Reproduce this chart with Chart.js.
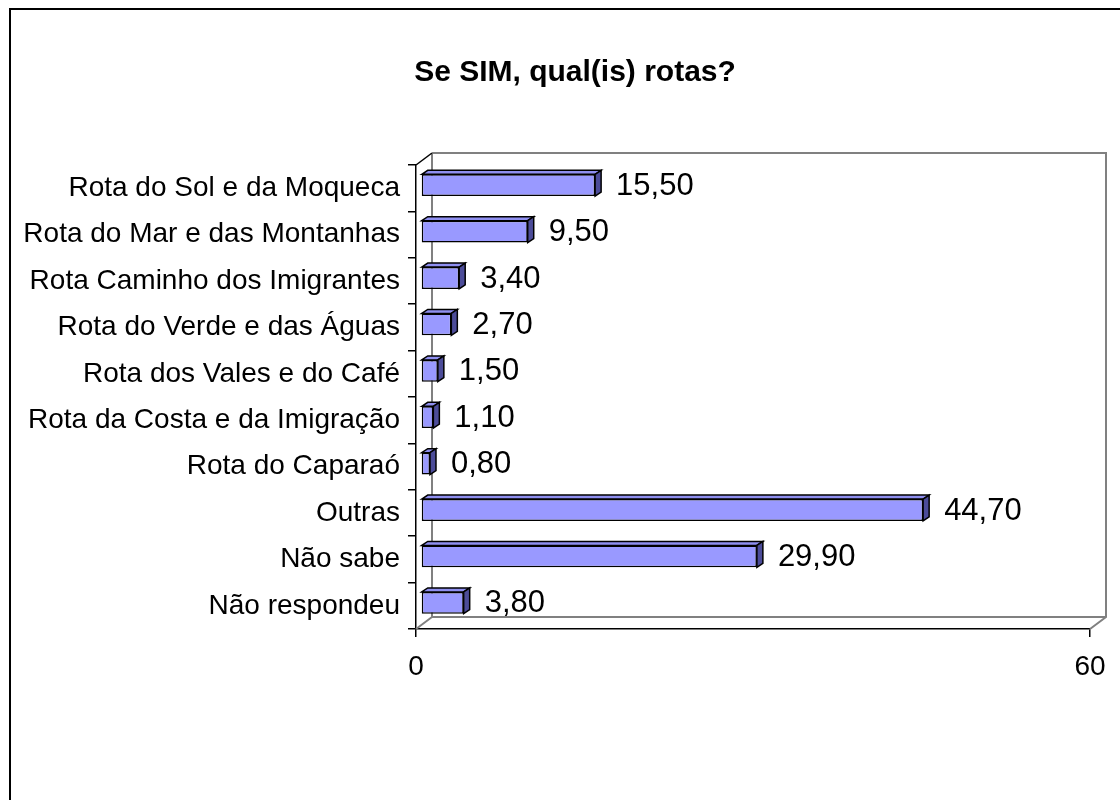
<!DOCTYPE html>
<html>
<head>
<meta charset="utf-8">
<title>Se SIM, qual(is) rotas?</title>
<script src="https://cdn.jsdelivr.net/npm/chart.js@4"></script>
<style>
  html, body { margin: 0; padding: 0; background: #fff; }
  #wrap { position: relative; width: 1120px; height: 800px; overflow: hidden; }
  #frame { position: absolute; left: 9px; top: 8px; right: -10px; bottom: -10px; border: 2px solid #000; }
  canvas { position: absolute; left: 0; top: 0; }
</style>
</head>
<body>
<div id="wrap">
  <div id="frame"></div>
  <canvas id="rotasChart" width="1120" height="800"></canvas>
</div>
<script>
const chartTitle = 'Se SIM, qual(is) rotas?';
const categories = [
  'Rota do Sol e da Moqueca',
  'Rota do Mar e das Montanhas',
  'Rota Caminho dos Imigrantes',
  'Rota do Verde e das Águas',
  'Rota dos Vales e do Café',
  'Rota da Costa e da Imigração',
  'Rota do Caparaó',
  'Outras',
  'Não sabe',
  'Não respondeu'
];
const percentages = [15.5, 9.5, 3.4, 2.7, 1.5, 1.1, 0.8, 44.7, 29.9, 3.8];
const xTicks = [0, 60];

const FONT = '"Liberation Sans", Arial, sans-serif';
const DEPTH_X = 16, DEPTH_Y = -12;     // back wall offset
const BAR_DX = 6, BAR_DY = -4;         // bar depth
const SHIFT_X = 5, SHIFT_Y = -3;       // bars sit a bit inside the box

// draws the 3d box, the bar faces, the value labels and the title
const box3d = {
  id: 'box3d',
  beforeDatasetsDraw(chart) {
    const { ctx, chartArea: a } = chart;
    ctx.save();
    // back wall + floor outline, grey
    ctx.strokeStyle = '#808080';
    ctx.lineWidth = 2;
    ctx.beginPath();
    ctx.moveTo(a.left + DEPTH_X, a.top + DEPTH_Y);
    ctx.lineTo(a.right + DEPTH_X, a.top + DEPTH_Y);
    ctx.lineTo(a.right + DEPTH_X, a.bottom + DEPTH_Y);
    ctx.lineTo(a.right, a.bottom);
    ctx.moveTo(a.left + DEPTH_X, a.top + DEPTH_Y);
    ctx.lineTo(a.left + DEPTH_X, a.bottom + DEPTH_Y);
    ctx.lineTo(a.right + DEPTH_X, a.bottom + DEPTH_Y);
    ctx.moveTo(a.left + DEPTH_X, a.bottom + DEPTH_Y);
    ctx.lineTo(a.left, a.bottom);
    ctx.stroke();
    // front axis corner to the wall
    ctx.strokeStyle = '#000';
    ctx.lineWidth = 1.5;
    ctx.beginPath();
    ctx.moveTo(a.left, a.top);
    ctx.lineTo(a.left + DEPTH_X, a.top + DEPTH_Y);
    ctx.stroke();
    ctx.restore();

    ctx.save();
    ctx.translate(SHIFT_X, SHIFT_Y);
  },
  afterDatasetsDraw(chart) {
    const { ctx } = chart;
    const meta = chart.getDatasetMeta(0);
    ctx.lineWidth = 1.5;
    ctx.strokeStyle = '#000';
    meta.data.forEach((bar, i) => {
      const top = bar.y - bar.height / 2;
      const bottom = bar.y + bar.height / 2;
      // top face
      ctx.beginPath();
      ctx.moveTo(bar.base, top);
      ctx.lineTo(bar.base + BAR_DX, top + BAR_DY);
      ctx.lineTo(bar.x + BAR_DX, top + BAR_DY);
      ctx.lineTo(bar.x, top);
      ctx.closePath();
      ctx.fillStyle = '#8f8ff0';
      ctx.fill();
      ctx.stroke();
      // side face
      ctx.beginPath();
      ctx.moveTo(bar.x, top);
      ctx.lineTo(bar.x + BAR_DX, top + BAR_DY);
      ctx.lineTo(bar.x + BAR_DX, bottom + BAR_DY);
      ctx.lineTo(bar.x, bottom);
      ctx.closePath();
      ctx.fillStyle = '#4c4c99';
      ctx.fill();
      ctx.stroke();

      // value label
      ctx.fillStyle = '#000';
      ctx.font = '31px ' + FONT;
      ctx.textAlign = 'left';
      ctx.textBaseline = 'middle';
      ctx.fillText(percentages[i].toFixed(2).replace('.', ','), bar.x + BAR_DX + 15, bar.y + 1);
    });
    ctx.restore();
  },
  afterDraw(chart) {
    const { ctx } = chart;
    ctx.save();
    ctx.fillStyle = '#000';
    ctx.font = 'bold 30px ' + FONT;
    ctx.textAlign = 'center';
    ctx.textBaseline = 'middle';
    ctx.fillText(chartTitle, 575, 73);
    ctx.restore();
  }
};

new Chart(document.getElementById('rotasChart'), {
  type: 'bar',
  data: {
    labels: categories,
    datasets: [{
      data: percentages,
      backgroundColor: '#9999ff',
      borderColor: '#000',
      borderWidth: 1.5,
      borderSkipped: false,
      categoryPercentage: 1,
      barPercentage: 0.47
    }]
  },
  options: {
    indexAxis: 'y',
    responsive: false,
    animation: false,
    layout: { padding: { left: 0, right: 30, top: 165, bottom: 0 } },
    plugins: {
      legend: { display: false },
      tooltip: { enabled: false },
      title: { display: false }
    },
    scales: {
      x: {
        min: 0,
        max: 60,
        afterBuildTicks: (s) => { s.ticks = xTicks.map(v => ({ value: v })); },
        afterFit: (s) => { s.height = 171; },
        border: { display: true, color: '#000', width: 1.5 },
        grid: { drawOnChartArea: false, color: '#000', tickLength: 8, lineWidth: 1.5 },
        ticks: { color: '#000', padding: 13, font: { family: FONT, size: 28 } }
      },
      y: {
        afterFit: (s) => { s.width = 416; },
        border: { display: true, color: '#000', width: 1.5 },
        grid: { drawOnChartArea: false, color: '#000', tickLength: 8, lineWidth: 1.5 },
        ticks: { color: '#000', padding: 8, font: { family: FONT, size: 28 } }
      }
    }
  },
  plugins: [box3d]
});
</script>
</body>
</html>
